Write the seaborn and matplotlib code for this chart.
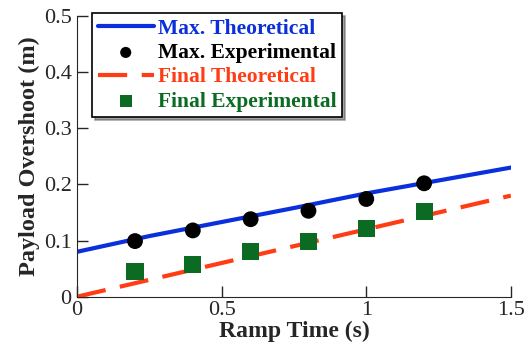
import numpy as np
import pandas as pd
import matplotlib
matplotlib.use("Agg")
import matplotlib.pyplot as plt
import seaborn as sns

# theoretical curves
t_theory = [0.0, 0.25, 0.5, 0.75, 1.0, 1.25, 1.5]
max_theory = [0.080, 0.108, 0.133, 0.158, 0.184, 0.207, 0.230]
final_theory = [0.0, 0.030, 0.060, 0.090, 0.120, 0.150, 0.180]

# experimental points
t_exp = [0.2, 0.4, 0.6, 0.8, 1.0, 1.2]
max_exp = [0.099, 0.118, 0.138, 0.153, 0.174, 0.202]
final_exp = [0.045, 0.058, 0.080, 0.098, 0.121, 0.152]

sns.set_style("ticks")
plt.rcParams['font.family'] = ['Liberation Serif', 'DejaVu Serif']

fig = plt.figure(figsize=(5.25, 3.49), dpi=100)
ax = fig.add_axes([0.147, 0.15, 0.826, 0.804])

theory = pd.DataFrame({"t": t_theory, "max": max_theory, "final": final_theory})
exp = pd.DataFrame({"t": t_exp, "max": max_exp, "final": final_exp})

sns.lineplot(data=theory, x="t", y="max", color="#0a2fdc", lw=3,
             label="Max. Theoretical", ax=ax)
sns.scatterplot(data=exp, x="t", y="max", color="black", s=130, marker="o",
                edgecolor="none", label="Max. Experimental", ax=ax, zorder=3)
sns.lineplot(data=theory, x="t", y="final", color="#ff3c14", lw=3,
             dashes=False, label="Final Theoretical", ax=ax)
ax.lines[-1].set_dashes((7, 3.5))
sns.scatterplot(data=exp, x="t", y="final", color="#0b6b22", s=150, marker="s",
                edgecolor="none", label="Final Experimental", ax=ax, zorder=3)

ax.set_xlim(0, 1.5)
ax.set_ylim(0, 0.5)
ax.set_xticks([0, 0.5, 1, 1.5])
ax.set_xticklabels(["0", "0.5", "1", "1.5"])
ax.set_yticks([0, 0.1, 0.2, 0.3, 0.4, 0.5])
ax.set_yticklabels(["0", "0.1", "0.2", "0.3", "0.4", "0.5"])
ax.tick_params(direction="in", length=8, width=1, labelsize=16)
ax.tick_params(axis="x", pad=3)
ax.tick_params(axis="y", pad=4)
sns.despine(ax=ax)
ax.set_xlabel("Ramp Time (s)", fontsize=17, fontweight="bold", labelpad=0.5)
ax.set_ylabel("Payload Overshoot (m)", fontsize=17.5, fontweight="bold", labelpad=3)

leg = ax.legend(loc="upper left", bbox_to_anchor=(0.035, 1.01), frameon=True,
                shadow=True, fancybox=False,
                prop={"weight": "bold", "size": 15.5},
                handlelength=2.6, handletextpad=0.2, borderpad=0.25,
                labelspacing=0.2, borderaxespad=0.0, markerscale=0.7)
leg.get_frame().set_edgecolor("black")
leg.get_frame().set_linewidth(1.2)
for txt, c in zip(leg.get_texts(), ["#0a2fdc", "black", "#ff3c14", "#0b6b22"]):
    txt.set_color(c)

fig.savefig("out.png", dpi=100)
